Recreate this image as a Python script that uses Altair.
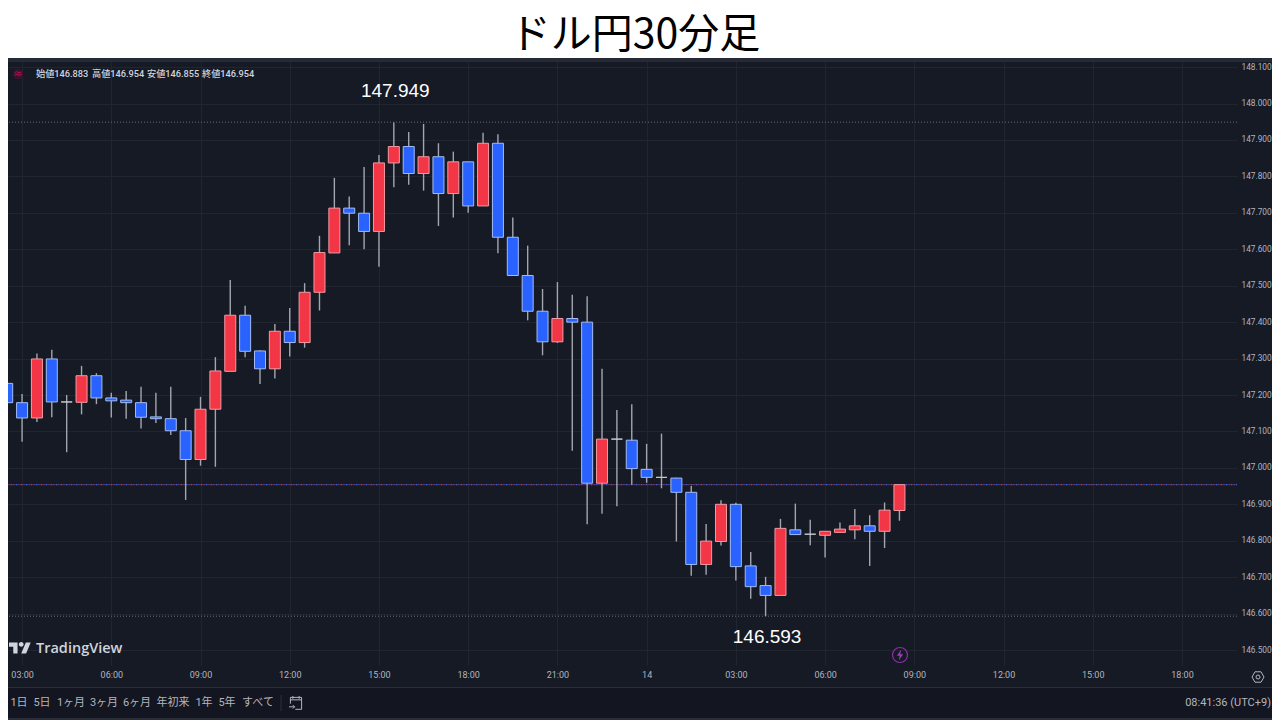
import altair as alt
import pandas as pd

opens = [147.232,147.179,147.137,147.299,147.181,147.180,147.253,147.192,147.186,147.179,
         147.140,147.135,147.102,147.023,147.161,147.265,147.419,147.321,147.272,147.375,
         147.344,147.482,147.590,147.713,147.699,147.649,147.837,147.882,147.808,147.854,
         147.753,147.840,147.719,147.891,147.633,147.528,147.430,147.346,147.410,147.400,
         146.958,147.079,147.076,146.996,146.974,146.972,146.933,146.735,146.798,146.900,
         146.731,146.677,146.650,146.830,146.818,146.815,146.823,146.830,146.841,146.826,146.883]
highs = [147.272,147.203,147.314,147.324,147.200,147.280,147.260,147.206,147.211,147.223,
         147.206,147.223,147.137,147.195,147.304,147.516,147.445,147.323,147.395,147.439,
         147.507,147.637,147.796,147.745,147.826,147.859,147.948,147.922,147.944,147.891,
         147.868,147.840,147.920,147.916,147.687,147.610,147.491,147.510,147.475,147.471,
         147.272,147.159,147.175,147.066,147.094,146.973,146.950,146.846,146.911,146.904,
         146.769,146.701,146.860,146.902,146.858,146.826,146.850,146.887,146.870,146.905,146.954]
lows = [147.091,147.072,147.126,147.139,147.043,147.147,147.175,147.138,147.135,147.108,
        147.123,147.090,146.912,147.006,147.003,147.265,147.304,147.230,147.245,147.306,
        147.330,147.432,147.590,147.611,147.600,147.552,147.770,147.777,147.761,147.664,
        147.687,147.700,147.719,147.589,147.528,147.405,147.309,147.343,147.047,146.845,
        146.874,146.895,146.954,146.959,146.944,146.798,146.704,146.707,146.787,146.691,
        146.641,146.593,146.650,146.817,146.788,146.754,146.823,146.804,146.731,146.780,146.855]
closes = [147.179,147.137,147.299,147.181,147.181,147.253,147.192,147.184,147.179,147.139,
          147.135,147.102,147.023,147.161,147.266,147.419,147.320,147.272,147.375,147.344,
          147.482,147.591,147.713,147.699,147.649,147.837,147.882,147.808,147.854,147.753,
          147.840,147.719,147.891,147.633,147.528,147.430,147.346,147.410,147.400,146.958,
          147.079,147.079,146.998,146.974,146.974,146.933,146.735,146.799,146.900,146.729,
          146.674,146.650,146.834,146.817,146.818,146.826,146.832,146.841,146.826,146.884,146.954]

price_ticks = [146.5,146.6,146.7,146.8,146.9,147.0,147.1,147.2,147.3,147.4,147.5,147.6,147.7,147.8,147.9,148.0,148.1]
time_ticks = [1,7,13,19,25,31,37,43,49,55,61,67,73,79]
time_labels = ["03:00","06:00","09:00","12:00","15:00","18:00","21:00","14","03:00","06:00","09:00","12:00","15:00","18:00"]
high_price = 147.949
low_price = 146.593
last_price = 146.954
high_bar = 26
low_bar = 51

range_labels = ["1日","5日","1ヶ月","3ヶ月","6ヶ月","年初来","1年","5年","すべて"]
range_xs = [19,42,71,104,137,173,204,227,258]
ohlc_labels = ["始値146.883","高値146.954","安値146.855","終値146.954"]
ohlc_xs = [36,92,147,202]

BG = "#161a25"
BG2 = "#131620"
EDGE = "#2a2e39"
GRID = "#212530"
TXT = "#b2b5be"
FONT = "Roboto"
JP = "Noto Sans CJK JP"
MIXED = "Roboto, Noto Sans CJK JP"
OX, OY = 8, 58   # page position of the plot's corner

df = pd.DataFrame({"bar": range(len(opens)), "open": opens, "high": highs, "low": lows, "close": closes})
df["top"] = df[["open", "close"]].max(axis=1)
df["bottom"] = df[["open", "close"]].min(axis=1)
df["kind"] = ["up" if c > o else "down" if c < o else "flat" for o, c in zip(opens, closes)]

xscale = alt.Scale(domain=[0.054, 82.70], nice=False, zero=False, padding=0)
yscale = alt.Scale(domain=[146.459, 148.125], nice=False, zero=False, padding=0)
label_list = "[" + ",".join("'%s'" % t for t in time_labels) + "]"
xaxis = alt.Axis(values=time_ticks, labelExpr=label_list + "[(datum.value-1)/6]", title=None,
                 grid=True, gridColor=GRID, domain=False, ticks=False, labelColor=TXT,
                 labelFont=FONT, labelFontSize=9, labelPadding=5, labelFlush=False, labelOverlap=False)
yaxis = alt.Axis(values=price_ticks, format=".3f", orient="right", title=None, grid=True, gridColor=GRID,
                 domain=False, ticks=False, labelColor=TXT, labelFont=FONT, labelFontSize=8.3,
                 labelPadding=4, labelOverlap=False, labelFlush=False)


def X(field):
    return alt.X(field, scale=xscale, axis=xaxis)


def Y(field):
    return alt.Y(field, scale=yscale, axis=yaxis)


one = pd.DataFrame({"t": [""]})


def box(x0, y0, x1, y1, color):
    return alt.Chart(one).mark_rect(color=color).encode(
        x=alt.value(x0 - OX), x2=alt.value(x1 - OX), y=alt.value(y0 - OY), y2=alt.value(y1 - OY))


def text(s, x, y, size=10, color=TXT, font=FONT, align="left", weight="normal"):
    return alt.Chart(pd.DataFrame({"t": [s]})).mark_text(
        fontSize=size, color=color, font=font, align=align, baseline="middle", fontWeight=weight
    ).encode(text="t:N", x=alt.value(x - OX), y=alt.value(y - OY))


def icon(shape, x, y, size, fill=None, stroke=None, width=1.0):
    kw = dict(shape=shape, size=size, opacity=1)
    if fill:
        kw.update(filled=True, fill=fill, strokeWidth=0)
    else:
        kw.update(filled=False, stroke=stroke, strokeWidth=width)
    return alt.Chart(one).mark_point(**kw).encode(x=alt.value(x - OX), y=alt.value(y - OY))


def level(price, color, width=1.0, dash=(1, 2), offset=0):
    return alt.Chart(pd.DataFrame({"p": [price]})).mark_rule(
        color=color, strokeWidth=width, strokeDash=list(dash), strokeDashOffset=offset
    ).encode(y=Y("p:Q"))


wicks = alt.Chart(df).mark_rule(color="#a3a6af", strokeWidth=1.4).encode(x=X("bar:Q"), y=Y("low:Q"), y2="high:Q")
bodies = alt.Chart(df).mark_bar(size=11, strokeWidth=1).encode(
    x=X("bar:Q"),
    y=Y("bottom:Q"),
    y2="top:Q",
    fill=alt.Fill("kind:N", legend=None, scale=alt.Scale(domain=["up", "down", "flat"], range=["#f23645", "#2962ff", "#c8cad0"])),
    stroke=alt.Stroke("kind:N", legend=None, scale=alt.Scale(domain=["up", "down", "flat"], range=["#f29aa3", "#a3bcf5", "#c8cad0"])),
)

extreme = pd.DataFrame({"bar": [high_bar, low_bar], "price": [high_price, low_price],
                        "label": ["%.3f" % high_price, "%.3f" % low_price], "dy": [-31, 21]})
extreme_labels = [
    alt.Chart(extreme.iloc[[i]]).mark_text(font="Liberation Sans", fontSize=19, color="#ffffff", dx=1.5, dy=int(extreme.dy[i])).encode(
        x=X("bar:Q"), y=Y("price:Q"), text="label:N")
    for i in range(2)
]

LOGO = ("M-.222,.5 H-.611 V-.111 H-1 V-.5 H-.222 Z M.556,.5 H.111 L.528,-.5 H.972 Z "
        "M-.111,-.333 A.222,.222 0 1 0 .333,-.333 A.222,.222 0 1 0 -.111,-.333 Z")
BOLT = "M.15,-.75 L-.45,.1 H-.05 L-.15,.75 L.45,-.1 H.05 Z"
HEX = "M-1,0 L-.5,-.87 L.5,-.87 L1,0 L.5,.87 L-.5,.87 Z"
CAL = "M-.8,.1 V-.8 H.8 V.9 H-.1 M-.8,-.45 H.8 M-.45,-1 V-.6 M.45,-1 V-.6 M-1,.55 H-.2 M-.45,.3 L-.2,.55 L-.45,.8"

layers = [
    box(0, 0, 1280, 58, "#ffffff"),
    box(0, 58, 1280, 62, "#262a36"),
    box(0, 687, 1280, 720, BG2),
    box(0, 687, 1280, 688, EDGE),
    box(0, 718, 1280, 720, EDGE),
    level(high_price, "#6a6d78"),
    level(low_price, "#6a6d78"),
    level(last_price, "#4a5cc8", width=1.4, dash=(1, 1.5)),
    level(last_price, "#a04070", width=0.8, dash=(1, 1.5), offset=1.2),
    wicks,
    bodies,
    *extreme_labels,
    text("ドル円30分足", 635, 36, size=41, color="#000000", font=JP, align="center"),
    icon("circle", 18, 74, 110, fill="#3d1230"),
    text("≈", 18, 74, size=9, color="#c2185b", font=JP, align="center"),
    *[text(s, x, 74, size=9.2, color="#d1d4dc", font=MIXED, weight=500) for s, x in zip(ohlc_labels, ohlc_xs)],
    icon(LOGO, 20, 648, 484, fill="#d1d4dc"),
    text("TradingView", 36, 649, size=14.5, color="#d1d4dc", font="Open Sans", weight=600),
    icon("circle", 900, 655, 225, stroke="#8e2ea8", width=1.2),
    icon(BOLT, 900, 655, 196, fill="#9c3cb8"),
    icon(HEX, 1258, 677, 144, stroke=TXT),
    icon("circle", 1258, 677, 16, stroke=TXT),
    *[text(s, x, 703, size=11, color=TXT, font=MIXED, align="center") for s, x in zip(range_labels, range_xs)],
    box(280.5, 695, 281.5, 711, EDGE),
    icon(CAL, 296, 703, 196, stroke=TXT),
    text("08:41:36 (UTC+9)", 1271, 703, size=11, color=TXT, font=MIXED, align="right"),
]

chart = (
    alt.layer(*layers)
    .resolve_scale(fill="independent", stroke="independent")
    .properties(
        width=1229,
        height=607,
        padding={"left": 0, "top": 50, "right": 35, "bottom": 55},
        autosize=alt.AutoSizeParams(type="none"),
        background=BG,
    )
    .configure_view(stroke=None)
)

chart.save("out.html", embed_options={"renderer": "svg", "actions": False})
